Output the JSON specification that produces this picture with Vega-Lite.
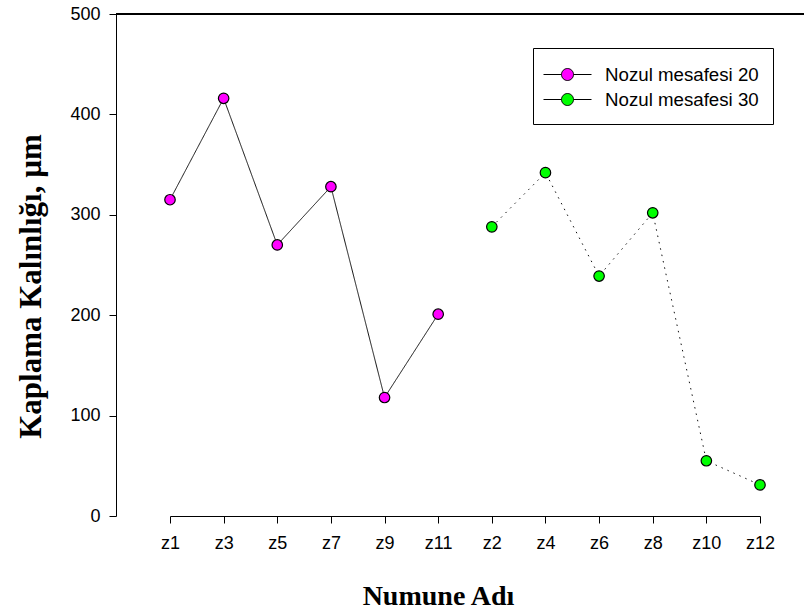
{
  "$schema": "https://vega.github.io/schema/vega-lite/v6.json",
  "width": 688,
  "height": 502,
  "autosize": {"type": "none"},
  "padding": {"left": 116, "top": 14, "right": 0, "bottom": 99},
  "background": "white",
  "config": {
    "view": {"stroke": null},
    "font": "Liberation Sans",
    "axis": {
      "grid": false,
      "domainColor": "black",
      "tickColor": "black",
      "labelColor": "black",
      "labelFont": "Liberation Sans",
      "labelFontSize": 18,
      "titleFont": "Liberation Serif",
      "titleFontWeight": "bold",
      "titleColor": "black",
      "tickSize": 7,
      "domainWidth": 1,
      "tickWidth": 1
    }
  },
  "data": {
    "values": [
      {"numune": "z1", "grup": "Nozul mesafesi 20", "kalinlik": 315},
      {"numune": "z3", "grup": "Nozul mesafesi 20", "kalinlik": 416},
      {"numune": "z5", "grup": "Nozul mesafesi 20", "kalinlik": 270},
      {"numune": "z7", "grup": "Nozul mesafesi 20", "kalinlik": 328},
      {"numune": "z9", "grup": "Nozul mesafesi 20", "kalinlik": 118},
      {"numune": "z11", "grup": "Nozul mesafesi 20", "kalinlik": 201},
      {"numune": "z2", "grup": "Nozul mesafesi 30", "kalinlik": 288},
      {"numune": "z4", "grup": "Nozul mesafesi 30", "kalinlik": 342},
      {"numune": "z6", "grup": "Nozul mesafesi 30", "kalinlik": 239},
      {"numune": "z8", "grup": "Nozul mesafesi 30", "kalinlik": 302},
      {"numune": "z10", "grup": "Nozul mesafesi 30", "kalinlik": 55},
      {"numune": "z12", "grup": "Nozul mesafesi 30", "kalinlik": 31}
    ]
  },
  "encoding": {
    "x": {
      "field": "numune",
      "type": "nominal",
      "sort": ["z1", "z3", "z5", "z7", "z9", "z11", "z2", "z4", "z6", "z8", "z10", "z12"],
      "scale": {"type": "point", "range": [54, 644], "padding": 0},
      "axis": {
        "title": "Numune Adı",
        "labelAngle": 0,
        "labelPadding": 11,
        "titleFontSize": 28,
        "titleX": 322,
        "titleY": 88,
        "titleBaseline": "alphabetic",
        "titleAlign": "center"
      }
    },
    "y": {
      "field": "kalinlik",
      "type": "quantitative",
      "scale": {"domain": [0, 500], "nice": false, "zero": true},
      "axis": {
        "title": "Kaplama Kalınlığı, µm",
        "values": [0, 100, 200, 300, 400, 500],
        "labelPadding": 9,
        "titleFontSize": 31,
        "titleAngle": -90,
        "titleX": -76,
        "titleY": 272,
        "titleBaseline": "alphabetic",
        "titleAlign": "center"
      }
    }
  },
  "layer": [
    {
      "mark": {"type": "rule", "color": "black", "strokeWidth": 1},
      "encoding": {"x": null, "y": {"datum": 500, "type": "quantitative"}}
    },
    {
      "mark": {"type": "line", "strokeWidth": 1, "color": "#111111"},
      "encoding": {
        "detail": {"field": "grup"},
        "strokeDash": {
          "field": "grup",
          "type": "nominal",
          "scale": {"range": [[1, 0], [1.5, 5]]},
          "legend": null
        }
      }
    },
    {
      "mark": {"type": "point", "filled": true, "size": 110, "stroke": "black", "strokeWidth": 1.2, "opacity": 1},
      "encoding": {
        "color": {
          "field": "grup",
          "type": "nominal",
          "scale": {"domain": ["Nozul mesafesi 20", "Nozul mesafesi 30"], "range": ["#FF00FF", "#00FF00"]},
          "legend": {
            "title": null,
            "orient": "none",
            "legendX": 417,
            "legendY": 34,
            "strokeColor": "black",
            "fillColor": "white",
            "padding": 14,
            "labelFont": "Liberation Sans",
            "labelFontSize": 18.7,
            "labelColor": "black",
            "symbolSize": 576,
            "symbolStrokeColor": "black",
            "symbolStrokeWidth": 1,
            "symbolOffset": 8,
            "labelOffset": 25,
            "rowPadding": 2,
            "symbolType": "M-2,0L-0.5,0M0.5,0L2,0M-0.5,0A0.5,0.5,0,1,1,0.5,0A0.5,0.5,0,1,1,-0.5,0Z",
            "encode": {
              "symbols": {
                "shape": {"signal": "datum.value === 'Nozul mesafesi 30' ? 'M-2,0L-1.92,0M-1.65,0L-1.57,0M-1.3,0L-1.22,0M-0.95,0L-0.87,0M0.87,0L0.95,0M1.22,0L1.3,0M1.57,0L1.65,0M1.92,0L2,0M-0.5,0A0.5,0.5,0,1,1,0.5,0A0.5,0.5,0,1,1,-0.5,0Z' : 'M-2,0L-0.5,0M0.5,0L2,0M-0.5,0A0.5,0.5,0,1,1,0.5,0A0.5,0.5,0,1,1,-0.5,0Z'"}
              }
            }
          }
        }
      }
    }
  ]
}
